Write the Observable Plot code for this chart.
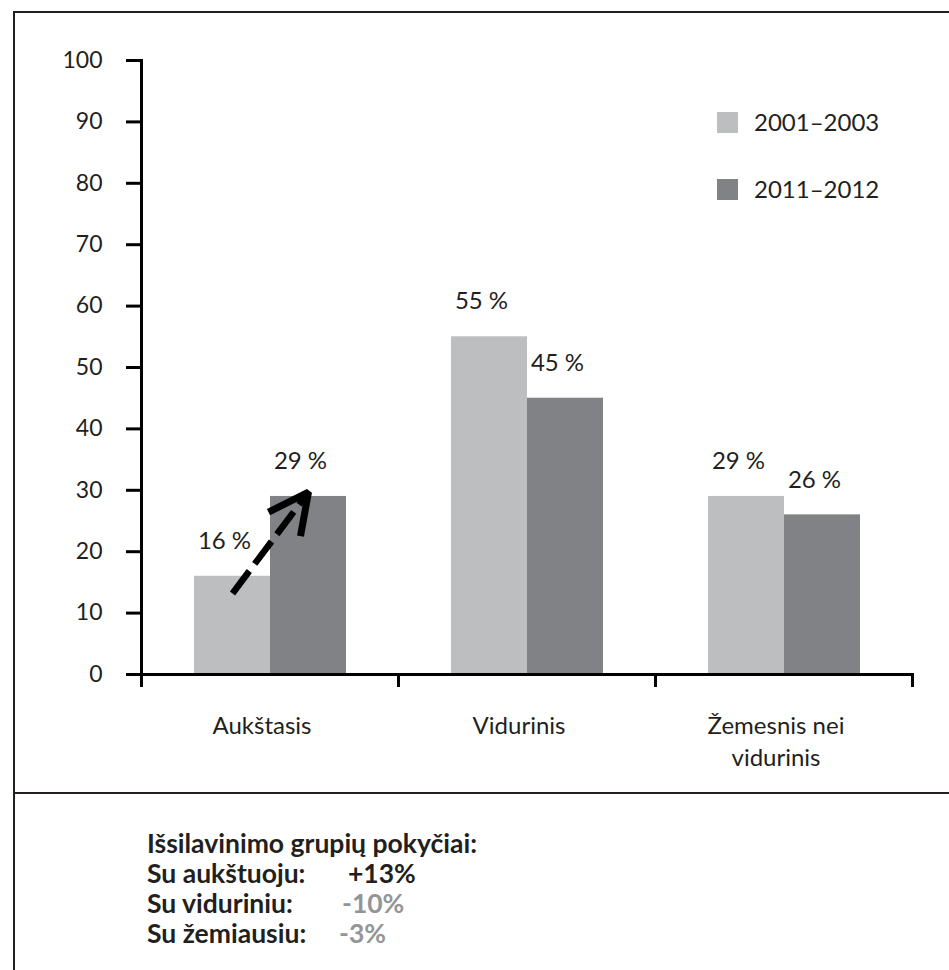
<!DOCTYPE html>
<html>
<head>
<meta charset="utf-8">
<script src="https://cdn.jsdelivr.net/npm/d3@7"></script>
<script src="https://cdn.jsdelivr.net/npm/@observablehq/plot@0.6"></script>
<style>
  html, body { margin: 0; padding: 0; background: #ffffff; }
  #wrap { position: relative; width: 949px; height: 970px; overflow: hidden; font-family: Lato, sans-serif; color: #231f20; }
  #chart { position: absolute; left: 0; top: 0; }
  .hline { position: absolute; left: 13px; right: 0; height: 0; border-top: 2px solid #231f20; }
  .vline { position: absolute; left: 13px; top: 12px; bottom: 0; width: 0; border-left: 2px solid #231f20; }
  #legend { position: absolute; left: 717px; top: 112px; }
  .leg-item { position: relative; height: 21px; margin-bottom: 46px; }
  .leg-swatch { position: absolute; left: 0; top: 0; width: 21px; height: 21px; }
  .leg-text { position: absolute; left: 37px; top: -5px; font-size: 24px; line-height: 30px; white-space: nowrap; }
  #notes { position: absolute; left: 147px; top: 828px; font-weight: 700; font-size: 26.5px; line-height: 30px; }
  #notes .row { position: relative; height: 30px; white-space: nowrap; }
  #notes .val { position: absolute; top: 0; }
</style>
</head>
<body>
<div id="wrap">
  <div class="hline" style="top:11px"></div>
  <div class="vline"></div>
  <div class="hline" style="top:792px"></div>
  <div id="chart"></div>
  <div id="legend"></div>
  <div id="notes"></div>
</div>
<script>
// ---- data ----
const categories = ["Aukštasis", "Vidurinis", "Žemesnis nei vidurinis"];
const categoryLabels = ["Aukštasis", "Vidurinis", "Žemesnis nei\nvidurinis"];
const periods = ["2001–2003", "2011–2012"];
const values2001 = [16, 55, 29];
const values2011 = [29, 45, 26];
const periodColors = ["#bcbec0", "#808285"];
const yTicks = [0, 10, 20, 30, 40, 50, 60, 70, 80, 90, 100];

// arrow annotation (from the light bar to the top of the dark bar, in data units)
const arrowCategory = "Aukštasis";
const arrowFromValue = 13.2;
const arrowToValue = 29.7;

// change notes
const notesTitle = "Išsilavinimo grupių pokyčiai:";
const notesLabels = ["Su aukštuoju:", "Su viduriniu:", "Su žemiausiu:"];
const notesValues = ["+13%", "-10%", "-3%"];
const notesColors = ["#231f20", "#939598", "#939598"];
const notesValueLeft = [201, 195, 192];

// ---- table ----
const data = categories.flatMap((c, i) => [
  {category: c, period: periods[0], value: values2001[i]},
  {category: c, period: periods[1], value: values2011[i]}
]);
const arrowData = [{category: arrowCategory, from: periods[0], to: periods[1], y1: arrowFromValue, y2: arrowToValue}];

function arrowHead(color) {
  const m = d3.create("svg:marker")
    .attr("viewBox", "-50 -30 62 60")
    .attr("markerWidth", 62)
    .attr("markerHeight", 60)
    .attr("markerUnits", "userSpaceOnUse")
    .attr("refX", 0)
    .attr("refY", 0)
    .attr("orient", "auto")
    .attr("overflow", "visible");
  m.append("path")
    .attr("d", "M-40,-20L0,0L-40,20")
    .attr("fill", "none")
    .attr("stroke", color)
    .attr("stroke-width", 7)
    .attr("stroke-dasharray", "none")
    .attr("stroke-linejoin", "miter")
    .attr("stroke-linecap", "butt");
  return m.node();
}

const H = 790;
const plot = Plot.plot({
  width: 949,
  height: H,
  marginLeft: 141,
  marginRight: 37,
  marginTop: 60,
  marginBottom: H - 685,
  style: {fontFamily: "Lato, sans-serif", fontSize: "23px", color: "#231f20", background: "transparent", overflow: "visible"},
  fx: {domain: categories, padding: 0, label: null},
  x: {domain: periods, paddingInner: 0, paddingOuter: 0.68, axis: null},
  y: {domain: [0, 100], insetBottom: 11, label: null},
  color: {domain: periods, range: periodColors},
  marks: [
    Plot.barY(data, {fx: "category", x: "period", y: "value", fill: "period"}),
    Plot.text(data, {fx: "category", x: "period", y: "value", text: d => `${d.value} %`, dy: -35, dx: -8, fontSize: 24, fill: "#231f20"}),
    Plot.frame({anchor: "left", facetAnchor: "left", stroke: "#000", strokeWidth: 3}),
    Plot.frame({anchor: "right", insetTop: 614, stroke: "#000", strokeWidth: 3}),
    Plot.ruleY([0], {stroke: "#000", strokeWidth: 3}),
    Plot.axisY({ticks: yTicks, tickSize: 15, tickPadding: 24, stroke: "#000", strokeWidth: 3, fontSize: 23, fill: "#231f20"}),
    Plot.axisFx({anchor: "bottom", tickSize: 0, tickPadding: 26, fontSize: 24, lineHeight: 1.32, dx: -8, fill: "#231f20",
      tickFormat: d => categoryLabels[categories.indexOf(d)]}),
    Plot.link(arrowData, {fx: "category", x1: "from", x2: "to", y1: "y1", y2: "y2",
      stroke: "#000", strokeWidth: 6.5, strokeDasharray: "28,9", markerEnd: arrowHead})
  ]
});
document.getElementById("chart").appendChild(plot);

// legend
const legend = document.getElementById("legend");
periods.forEach((p, i) => {
  const item = document.createElement("div");
  item.className = "leg-item";
  item.innerHTML = `<div class="leg-swatch" style="background:${periodColors[i]}"></div><div class="leg-text">${p}</div>`;
  legend.appendChild(item);
});

// notes
const notes = document.getElementById("notes");
const title = document.createElement("div");
title.className = "row";
title.textContent = notesTitle;
notes.appendChild(title);
notesLabels.forEach((l, i) => {
  const row = document.createElement("div");
  row.className = "row";
  row.innerHTML = `<span>${l}</span><span class="val" style="left:${notesValueLeft[i]}px;color:${notesColors[i]}">${notesValues[i]}</span>`;
  notes.appendChild(row);
});
</script>
</body>
</html>
